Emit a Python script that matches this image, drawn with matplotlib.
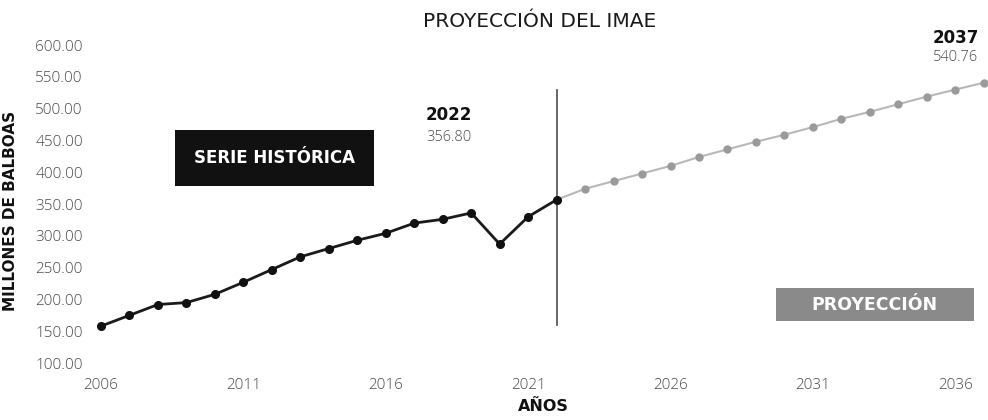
import matplotlib.pyplot as plt
from matplotlib.patches import Rectangle

# Serie historica del IMAE (millones de balboas)
hist_years = list(range(2006, 2023))
hist_values = [158, 175, 192, 195, 208, 227, 247, 267, 280, 293,
               304, 320, 326, 336, 287, 330, 356.80]

# Proyeccion
proj_years = list(range(2022, 2038))
proj_values = [356.80, 374, 386, 398, 410, 424, 436, 448, 459, 471,
               484, 495, 507, 519, 530, 540.76]

x_ticks = [2006, 2011, 2016, 2021, 2026, 2031, 2036]
y_ticks = [100, 150, 200, 250, 300, 350, 400, 450, 500, 550, 600]

plt.rcParams['font.family'] = ['DejaVu Sans']
thin = ['Open Sans', 'DejaVu Sans']

fig = plt.figure(figsize=(9.88, 4.2), dpi=100)
ax = fig.add_axes([0.1022, 0.1357, 0.897, 0.757])

# Projection first so the historical line sits on top
ax.plot(proj_years, proj_values, color='#b8b8b8', linewidth=1.5,
        marker='o', markersize=5, markerfacecolor='#9a9a9a',
        markeredgecolor='#9a9a9a', zorder=2, clip_on=False)
ax.plot(hist_years, hist_values, color='#1a1a1a', linewidth=2,
        marker='o', markersize=5.5, markerfacecolor='#111111',
        markeredgecolor='#111111', solid_joinstyle='round', zorder=3,
        clip_on=False)

# Divider at 2022
ax.plot([2022, 2022], [160, 530], color='#5a5a5a', linewidth=1.3, zorder=1)

ax.set_xlim(2006, 2037.12)
ax.set_ylim(100, 600)
ax.set_xticks(x_ticks)
ax.set_yticks(y_ticks)
ax.set_yticklabels([f'{v:.2f}' for v in y_ticks])
ax.tick_params(axis='both', length=0, labelsize=11, labelcolor='#4a4a4a')
ax.tick_params(axis='y', pad=13)
ax.tick_params(axis='x', pad=11)
for lbl in ax.get_xticklabels() + ax.get_yticklabels():
    lbl.set_family(thin)
    lbl.set_fontweight('light')
for s in ax.spines.values():
    s.set_visible(False)

fig.text(0.5466, 0.948, 'PROYECCIÓN DEL IMAE', ha='center', va='center',
         fontsize=14.5, color='#1a1a1a')
fig.text(0.0105, 0.498, 'MILLONES DE BALBOAS', ha='center', va='center',
         rotation=90, fontsize=11, fontweight='bold', color='#111111')
fig.text(0.55, 0.031, 'AÑOS', ha='center', va='center',
         fontsize=11.5, fontweight='bold', color='#111111')

# Value callouts
ax.text(2018.22, 490, '2022', ha='center', va='center',
        fontsize=12, fontweight='bold', color='#111111')
ax.text(2018.22, 455, f'{hist_values[-1]:.2f}', ha='center', va='center',
        fontsize=10.5, family=thin, fontweight='light', color='#4a4a4a')
ax.text(2036.0, 611, '2037', ha='center', va='center',
        fontsize=12, fontweight='bold', color='#111111', clip_on=False)
ax.text(2036.0, 580, f'{proj_values[-1]:.2f}', ha='center', va='center',
        fontsize=10.5, family=thin, fontweight='light', color='#4a4a4a',
        clip_on=False)

# Label boxes
ax.add_patch(Rectangle((2008.6, 378), 7.0, 88, facecolor='#111111',
                       edgecolor='none', zorder=4))
ax.text(2008.6 + 3.5, 422, 'SERIE HISTÓRICA', ha='center', va='center',
        fontsize=12, fontweight='bold', color='white', zorder=5)
ax.add_patch(Rectangle((2029.7, 166), 6.95, 52, facecolor='#8a8a8a',
                       edgecolor='none', zorder=4))
ax.text(2029.7 + 3.475, 192, 'PROYECCIÓN', ha='center', va='center',
        fontsize=12.5, fontweight='bold', color='white', zorder=5)

fig.savefig('out.png', dpi=100)
